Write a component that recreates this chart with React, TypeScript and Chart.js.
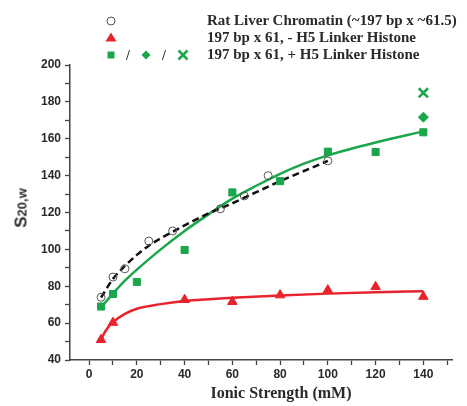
import React, { useEffect, useRef } from "react";
import { Chart, registerables } from "chart.js";
Chart.register(...registerables);

// ---- data ----
const ratX = [5, 10, 15, 25, 35, 55, 65, 75, 100];
const ratY = [74, 85, 89.5, 104.5, 110, 122, 129, 140, 148];
const minusX = [5, 10, 40, 60, 80, 100, 120, 140];
const minusY = [51, 60.3, 72.7, 71.6, 75.2, 77.9, 79.7, 74.4];
const plusX = [5, 10, 20, 40, 60, 80, 100, 120, 140];
const plusY = [69, 75.8, 82.3, 99.7, 130.9, 137, 153, 152.8, 163.5];
const diamondX = [140];
const diamondY = [171.7];
const crossX = [140];
const crossY = [184.9];

const ratFitX = [5, 10, 15, 20, 25, 30, 35, 40, 50, 60, 70, 80, 90, 100];
const ratFitY = [73.9, 84, 91, 97, 102, 106, 109.5, 113, 119.5, 125, 131, 137, 142.5, 148];
const minusFitX = [5, 7, 10, 15, 20, 30, 40, 50, 60, 80, 100, 120, 140];
const minusFitY = [51, 56, 60.5, 65, 67.8, 70.3, 72, 73, 73.8, 75, 76, 76.8, 77.3];
const plusFitX = [5, 10, 15, 20, 30, 40, 50, 60, 70, 80, 90, 100, 120, 140];
const plusFitY = [68.5, 76, 83, 89, 100, 110, 119, 127.5, 134.5, 141, 146.5, 151, 158, 164];

const xTicks = [0, 10, 20, 30, 40, 50, 60, 70, 80, 90, 100, 110, 120, 130, 140, 150];
const yTicks = [40, 50, 60, 70, 80, 90, 100, 110, 120, 130, 140, 150, 160, 170, 180, 190, 200];

const legendLabels = [
  "Rat Liver Chromatin (~197 bp x ~61.5)",
  "197 bp x 61, - H5 Linker Histone",
  "197 bp x 61, + H5 Linker Histone",
];

const GREEN = "#1aa64b";
const RED = "#e8232b";
const AXIS = "#444";
const TEXT = "#2a2a2a";

const pts = (xs: number[], ys: number[]) => xs.map((x, i) => ({ x, y: ys[i] }));

export default function App() {
  const ref = useRef<HTMLCanvasElement | null>(null);

  useEffect(() => {
    if (!ref.current) return;
    const fitBase = {
      showLine: true,
      pointRadius: 0,
      borderWidth: 2.5,
      cubicInterpolationMode: "monotone" as const,
      fill: false,
      order: 2,
    };
    const chart = new Chart(ref.current, {
      type: "scatter",
      data: {
        datasets: [
          { ...fitBase, data: pts(ratFitX, ratFitY), borderColor: "#111", borderDash: [7, 4] },
          { ...fitBase, data: pts(plusFitX, plusFitY), borderColor: GREEN },
          { ...fitBase, data: pts(minusFitX, minusFitY), borderColor: RED },
          {
            data: pts(ratX, ratY), pointStyle: "circle", pointRadius: 4,
            borderColor: "#555", backgroundColor: "rgba(255,255,255,0)", borderWidth: 1, order: 1,
          },
          {
            data: pts(minusX, minusY), pointStyle: "triangle", pointRadius: 5.5,
            borderColor: RED, backgroundColor: RED, borderWidth: 1, order: 1,
          },
          {
            data: pts(plusX, plusY), pointStyle: "rect", pointRadius: 5,
            borderColor: GREEN, backgroundColor: GREEN, borderWidth: 1, order: 1,
          },
          {
            data: pts(diamondX, diamondY), pointStyle: "rectRot", pointRadius: 5,
            borderColor: GREEN, backgroundColor: GREEN, borderWidth: 1, order: 1,
          },
          {
            data: pts(crossX, crossY), pointStyle: "crossRot", pointRadius: 6.5,
            borderColor: GREEN, backgroundColor: GREEN, borderWidth: 2.5, order: 1,
          },
        ],
      },
      options: {
        responsive: false,
        animation: false,
        devicePixelRatio: 1,
        layout: { padding: { top: 65, right: 15, left: 0, bottom: 0 } },
        plugins: { legend: { display: false }, tooltip: { enabled: false } },
        scales: {
          x: {
            type: "linear",
            min: -8,
            max: 152,
            afterBuildTicks: (s: any) => { s.ticks = xTicks.map((v) => ({ value: v })); },
            afterFit: (s: any) => { s.height = 46; },
            grid: { drawOnChartArea: false, tickLength: 5, tickColor: AXIS, tickWidth: 1.3 },
            border: { display: true, color: AXIS, width: 1.5 },
            ticks: {
              padding: 2,
              color: TEXT,
              font: { family: "'Liberation Sans', Arial, sans-serif", size: 12, weight: "bold" },
              callback: (v: any) => (v % 20 === 0 && v <= 140 ? String(v) : ""),
              maxRotation: 0,
              autoSkip: false,
            },
          },
          y: {
            type: "linear",
            min: 40,
            max: 200,
            afterBuildTicks: (s: any) => { s.ticks = yTicks.map((v) => ({ value: v })); },
            afterFit: (s: any) => { s.width = 70; },
            grid: { drawOnChartArea: false, tickLength: 5, tickColor: AXIS, tickWidth: 1.3 },
            border: { display: true, color: AXIS, width: 1.5 },
            ticks: {
              padding: 4,
              color: TEXT,
              font: { family: "'Liberation Sans', Arial, sans-serif", size: 12, weight: "bold" },
              callback: (v: any) => (v % 20 === 0 ? String(v) : ""),
              autoSkip: false,
            },
          },
        },
      },
    });
    return () => chart.destroy();
  }, []);

  const serif = "'Liberation Serif', 'Times New Roman', serif";
  const rowStyle = (top: number): React.CSSProperties => ({
    position: "absolute", left: 207, top, height: 18, lineHeight: "18px",
    font: `bold 15px ${serif}`, color: TEXT, whiteSpace: "nowrap",
  });

  return (
    <div style={{ position: "fixed", left: 0, top: 0, width: 467, height: 406, background: "#fff", overflow: "hidden" }}>
      <canvas ref={ref} width={467} height={406} style={{ display: "block", width: 467, height: 406 }} />
      <svg width={467} height={70} style={{ position: "absolute", left: 0, top: 0 }}>
        <circle cx={111} cy={21} r={4} fill="none" stroke="#555" strokeWidth={1} />
        <polygon points="111,32.5 116.5,41.5 105.5,41.5" fill={RED} />
        <rect x={107.5} y={51.5} width={7} height={7} fill={GREEN} />
        <text x={128} y={60} textAnchor="middle" style={{ font: `bold 14px ${serif}` }} fill={TEXT}>/</text>
        <polygon points="146,50.5 150.5,55 146,59.5 141.5,55" fill={GREEN} />
        <text x={164} y={60} textAnchor="middle" style={{ font: `bold 14px ${serif}` }} fill={TEXT}>/</text>
        <line x1={178.5} y1={50.5} x2={187.5} y2={59.5} stroke={GREEN} strokeWidth={2.5} />
        <line x1={187.5} y1={50.5} x2={178.5} y2={59.5} stroke={GREEN} strokeWidth={2.5} />
      </svg>
      <div style={rowStyle(12)}>{legendLabels[0]}</div>
      <div style={rowStyle(29)}>{legendLabels[1]}</div>
      <div style={rowStyle(46)}>{legendLabels[2]}</div>
      <div
        style={{
          position: "absolute", left: 281, top: 393, transform: "translate(-50%, -50%)",
          font: `bold 16px ${serif}`, color: TEXT, whiteSpace: "nowrap", lineHeight: "18px",
        }}
      >
        Ionic Strength (mM)
      </div>
      <div
        style={{
          position: "absolute", left: 22, top: 208, transform: "translate(-50%, -50%) rotate(-90deg)",
          fontFamily: "'Liberation Sans', Arial, sans-serif", fontWeight: "bold", color: TEXT,
          whiteSpace: "nowrap", lineHeight: "18px",
        }}
      >
        <span style={{ fontSize: 17 }}>S</span>
        <span style={{ fontSize: 13 }}>20,w</span>
      </div>
    </div>
  );
}
